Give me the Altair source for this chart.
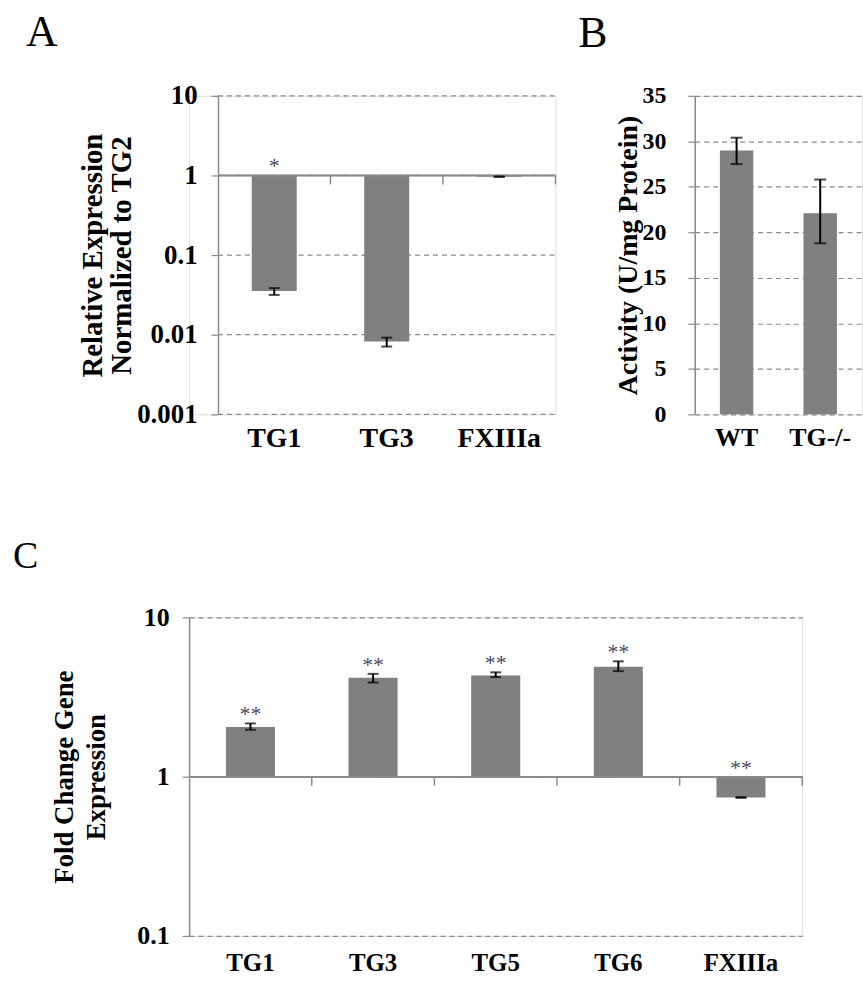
import altair as alt
import pandas as pd

# ---------------- data ----------------
A_cats = ["TG1", "TG3", "FXIIIa"]
A_vals = [0.0355, 0.0082, 0.965]
A_lo = [0.0316, 0.0071, 0.960]
A_hi = [0.0385, 0.0092, 0.970]
A_sig = ["*", "", ""]

B_cats = ["WT", "TG-/-"]
B_vals = [29.0, 22.1]
B_lo = [27.5, 18.8]
B_hi = [30.4, 25.8]

C_cats = ["TG1", "TG3", "TG5", "TG6", "FXIIIa"]
C_vals = [2.05, 4.18, 4.32, 4.90, 0.74]
C_lo = [1.97, 3.90, 4.22, 4.60, 0.735]
C_hi = [2.16, 4.42, 4.52, 5.30, 0.745]
C_sig = ["**", "**", "**", "**", "**"]

A_ticks = [0.001, 0.01, 0.1, 1, 10]
B_ticks = [0, 5, 10, 15, 20, 25, 30, 35]
C_ticks = [0.1, 1, 10]

FONT = "'Times New Roman', 'Liberation Serif', serif"
BAR = "#808080"
AXC = "#8a8a8a"
STAR = "#4a4a5e"

dfA = pd.DataFrame({"cat": A_cats, "v": A_vals, "lo": A_lo, "hi": A_hi, "sig": A_sig})
dfA["anchor"] = [max(1.0, h) for h in A_hi]
dfB = pd.DataFrame({"cat": B_cats, "v": B_vals, "lo": B_lo, "hi": B_hi})
dfC = pd.DataFrame({"cat": C_cats, "v": C_vals, "lo": C_lo, "hi": C_hi, "sig": C_sig})
dfC["anchor"] = [max(1.0, h) for h in C_hi]


def letter(txt, dx, dy, size):
    return alt.Chart(pd.DataFrame({"t": [txt]})).mark_text(
        font=FONT, fontSize=size, fontWeight="normal", align="left",
        baseline="alphabetic", color="black"
    ).encode(text="t:N", x=alt.value(dx), y=alt.value(dy))


def spacer(xpos):
    return alt.Chart(pd.DataFrame({"t": [0]})).mark_rule(color="white", strokeWidth=1).encode(
        x=alt.value(xpos), y=alt.value(0), y2=alt.value(2))


def log_panel(df, cats, ticks, dom, title, tfs, tlh, lfs, xfs, w, h,
              lab_pad, t_pad, x_pad, let, let_dx, let_size, ext, shift=0):
    total = w + shift
    sc = dict(paddingInner=0, paddingOuter=0)
    if shift:
        sc["range"] = [shift, total]
    xenc = alt.X("cat:N", sort=cats, title=None, scale=alt.Scale(**sc),
                 axis=alt.Axis(domain=False, ticks=False, grid=False, labelAngle=0,
                               labelFont=FONT, labelFontSize=xfs, labelFontWeight="bold",
                               labelColor="black", labelPadding=x_pad))
    yenc = alt.Y("v:Q", title=title,
                 scale=alt.Scale(type="log", domain=dom),
                 axis=alt.Axis(values=ticks, format="~g", grid=(shift == 0),
                               gridDash=[5, 4], offset=-shift,
                               gridColor=AXC, gridWidth=1.2, domainColor=AXC,
                               domainWidth=1.5, tickColor=AXC, tickSize=7, tickWidth=1.2,
                               labelFont=FONT, labelFontSize=lfs, labelFontWeight="bold",
                               labelColor="black", labelPadding=lab_pad,
                               titleFont=FONT, titleFontSize=tfs, titleFontWeight="bold",
                               titleColor="black", titleLineHeight=tlh, titlePadding=t_pad))
    base = alt.Chart(df)
    layers = []
    if shift:
        grid = alt.Chart(pd.DataFrame({"g": ticks})).mark_rule(
            color=AXC, strokeWidth=1.2, strokeDash=[5, 4]).encode(
            y=alt.Y("g:Q"), x=alt.value(shift), x2=alt.value(total))
        layers.append(grid)
    bars = base.mark_bar(color=BAR, width={"band": 0.4}).encode(
        x=xenc, y=yenc, y2=alt.datum(1))
    base1 = base.mark_rule(color=AXC, strokeWidth=1.5).encode(
        y=alt.datum(1), x=alt.value(shift), x2=alt.value(total))
    tks = base.mark_rule(color=AXC, strokeWidth=1.5, y2Offset=9).encode(
        x=alt.X("cat:N", sort=cats, bandPosition=1),
        y=alt.datum(1), y2=alt.datum(1))
    err = base.mark_rule(color="black", strokeWidth=2).encode(
        x=alt.X("cat:N", sort=cats), y="lo:Q", y2="hi:Q")
    caps_lo = base.mark_tick(color="black", thickness=2, size=11).encode(
        x=alt.X("cat:N", sort=cats), y="lo:Q")
    caps_hi = base.mark_tick(color="black", thickness=2, size=11).encode(
        x=alt.X("cat:N", sort=cats), y="hi:Q")
    stars = base.mark_text(font=FONT, fontSize=22, color=STAR, baseline="alphabetic",
                           dy=-2).encode(
        x=alt.X("cat:N", sort=cats), y="anchor:Q", text="sig:N")
    lt = letter(let, let_dx, -50, let_size)
    layers += [bars, base1, tks, err, caps_lo, caps_hi, stars, lt, spacer(ext)]
    return alt.layer(*layers).properties(width=total, height=h)


# panel A: plot area starts 29 px further right than panel C
A = log_panel(dfA, A_cats, A_ticks, [0.001, 10],
              ["Relative Expression", "Normalized to TG2"], 29, 29, 27, 28,
              339, 320, 14, 0, 10, "A", -164, 44, -177, shift=29)

C = log_panel(dfC, C_cats, C_ticks, [0.1, 10],
              ["Fold Change Gene", "Expression"], 27, 32, 26, 25,
              616, 320, 13, 27, 15, "C", -177, 38, -177)

# ---- panel B (linear) ----
bx = alt.X("cat:N", sort=B_cats, title=None,
           scale=alt.Scale(paddingInner=0, paddingOuter=0),
           axis=alt.Axis(domain=False, ticks=False, grid=False, labelAngle=0,
                         labelFont=FONT, labelFontSize=26, labelFontWeight="bold",
                         labelColor="black", labelPadding=10))
by = alt.Y("v:Q", title="Activity (U/mg Protein)",
           scale=alt.Scale(domain=[0, 35]),
           axis=alt.Axis(values=B_ticks, grid=True, gridDash=[5, 4], gridColor=AXC,
                         gridWidth=1.2, domainColor=AXC, domainWidth=1.5, tickColor=AXC,
                         tickSize=7, tickWidth=1.2, labelFont=FONT, labelFontSize=24,
                         labelFontWeight="bold", labelColor="black", labelPadding=22,
                         titleFont=FONT, titleFontSize=28, titleFontWeight="bold",
                         titleColor="black", titlePadding=0))
bb = alt.Chart(dfB)
B = alt.layer(
    bb.mark_bar(color=BAR, width={"band": 0.4}).encode(x=bx, y=by),
    bb.mark_rule(color="black", strokeWidth=2).encode(
        x=alt.X("cat:N", sort=B_cats), y="lo:Q", y2="hi:Q"),
    bb.mark_tick(color="black", thickness=2, size=12).encode(
        x=alt.X("cat:N", sort=B_cats), y="lo:Q"),
    bb.mark_tick(color="black", thickness=2, size=12).encode(
        x=alt.X("cat:N", sort=B_cats), y="hi:Q"),
    letter("B", -117, -49, 44),
).properties(width=168, height=320)

top = alt.hconcat(A, B, spacing=20)
chart = alt.concat(top, C, columns=1, spacing=84, align="none").properties(
    padding={"left": 12, "top": 8, "right": 0, "bottom": 0}
).configure_view(stroke=None).configure(background="white")

chart.save("out.html", embed_options={"renderer": "svg", "actions": False})
